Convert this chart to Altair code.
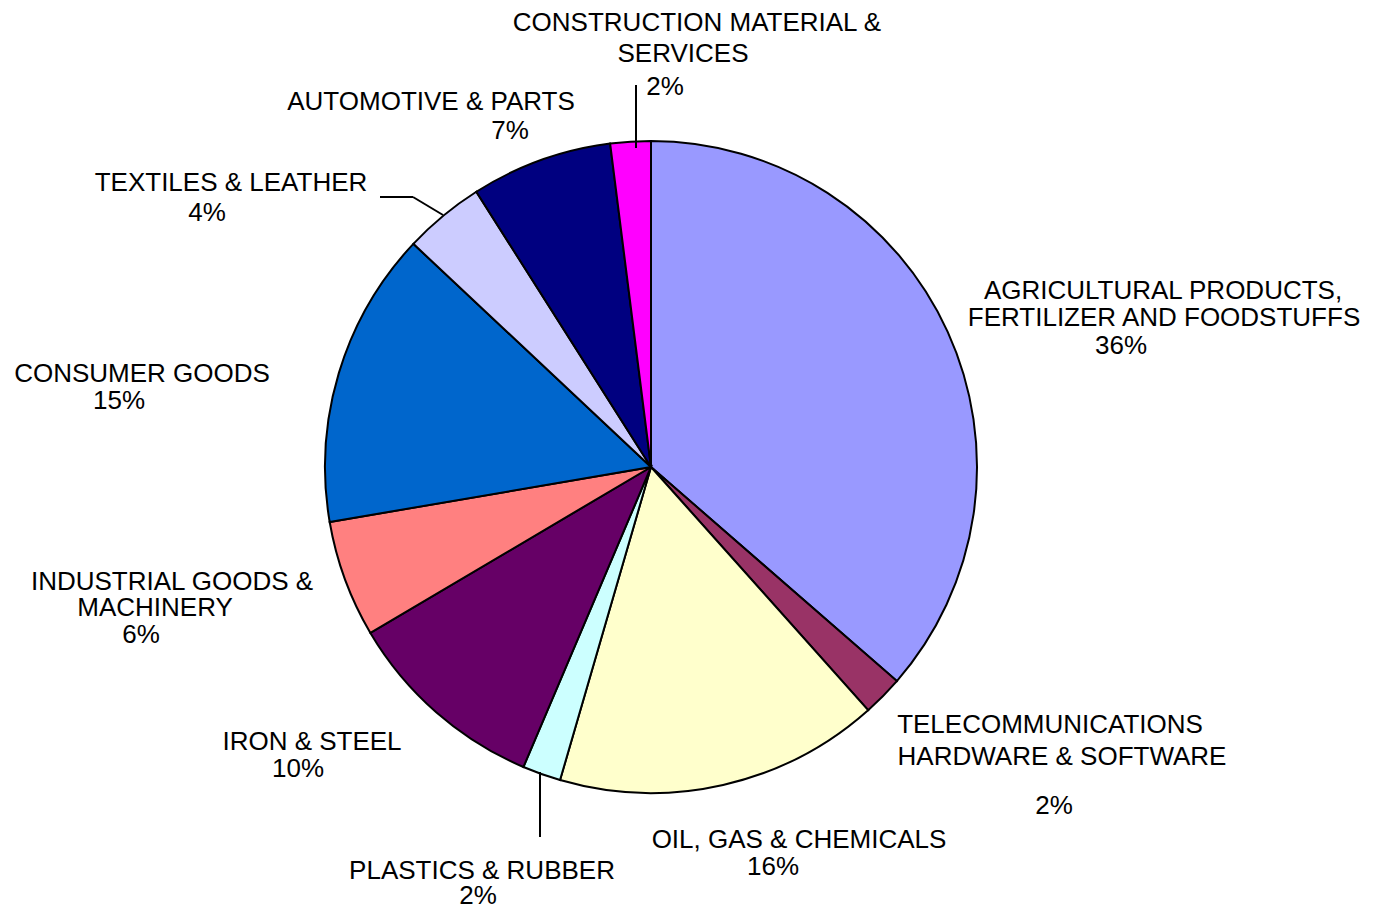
import altair as alt
import pandas as pd

# ---- data ----
categories = [
    "AGRICULTURAL PRODUCTS, FERTILIZER AND FOODSTUFFS",
    "TELECOMMUNICATIONS HARDWARE & SOFTWARE",
    "OIL, GAS & CHEMICALS",
    "PLASTICS & RUBBER",
    "IRON & STEEL",
    "INDUSTRIAL GOODS & MACHINERY",
    "CONSUMER GOODS",
    "TEXTILES & LEATHER",
    "AUTOMOTIVE & PARTS",
    "CONSTRUCTION MATERIAL & SERVICES",
]
shares = [36.4, 2.0, 16.1, 1.9, 10.1, 5.8, 14.7, 4.0, 7.0, 2.0]
colors = ["#9999FF", "#993366", "#FFFFCC", "#CCFFFF", "#660066",
          "#FF8080", "#0066CC", "#CCCCFF", "#000080", "#FF00FF"]

# label text lines (category names as wrapped in the chart)
name_lines = [
    ["AGRICULTURAL PRODUCTS,", "FERTILIZER AND FOODSTUFFS"],
    ["TELECOMMUNICATIONS", "HARDWARE & SOFTWARE"],
    ["OIL, GAS & CHEMICALS"],
    ["PLASTICS & RUBBER"],
    ["IRON & STEEL"],
    ["INDUSTRIAL GOODS &", "MACHINERY"],
    ["CONSUMER GOODS"],
    ["TEXTILES & LEATHER"],
    ["AUTOMOTIVE & PARTS"],
    ["CONSTRUCTION MATERIAL &", "SERVICES"],
]

# ---- layout (page pixel positions of label lines, incl. the % line) ----
label_pos = [
    [(1163, 291), (1164, 318), (1121, 346)],
    [(1050, 725), (1062, 757), (1054, 806)],
    [(799, 840), (773, 867)],
    [(482, 871), (478, 896)],
    [(312, 742), (298, 769)],
    [(172, 582), (155, 608), (141, 635)],
    [(142, 374), (119, 401)],
    [(231, 183), (207, 213)],
    [(431, 102), (510, 131)],
    [(697, 23), (683, 54), (665, 87)],
]
leaders = [  # x, y, x2, y2
    (636, 85, 636, 148),
    (380, 197, 413, 197),
    (413, 197, 443, 215),
    (540, 772, 540, 837),
]
CX, CY, R = 651, 467, 326
W, H = 1362, 898

pie_df = pd.DataFrame({"category": categories, "share": shares, "idx": list(range(len(categories)))})

rows = []
for i, (lines, pos) in enumerate(zip(name_lines, label_pos)):
    texts = lines + [f"{round(shares[i])}%"]
    for t, (px, py) in zip(texts, pos):
        rows.append({"text": t, "px": px, "py": py})
lab_df = pd.DataFrame(rows)
lead_df = pd.DataFrame(leaders, columns=["x", "y", "x2", "y2"])

xs = alt.Scale(domain=[8, 8 + W], range=[0, W])
ys = alt.Scale(domain=[8, 8 + H], range=[0, H])

pie = alt.Chart(pie_df).mark_arc(outerRadius=R, stroke="black", strokeWidth=2).encode(
    theta=alt.Theta("share:Q", stack=True),
    order=alt.Order("idx:Q"),
    color=alt.Color("category:N", scale=alt.Scale(domain=categories, range=colors), legend=None),
    x=alt.value(CX - 8),
    y=alt.value(CY - 8),
)

labels = alt.Chart(lab_df).mark_text(
    font="Liberation Sans", fontSize=26, color="black", align="center", baseline="middle"
).encode(
    x=alt.X("px:Q", scale=xs, axis=None),
    y=alt.Y("py:Q", scale=ys, axis=None),
    text="text:N",
)

lead = alt.Chart(lead_df).mark_rule(color="black", strokeWidth=2).encode(
    x=alt.X("x:Q", scale=xs, axis=None),
    y=alt.Y("y:Q", scale=ys, axis=None),
    x2="x2:Q",
    y2="y2:Q",
)

chart = alt.layer(pie, lead, labels).properties(
    width=W, height=H, padding=0, background="white",
    autosize=alt.AutoSizeParams(type="none")
).configure_view(strokeWidth=0)

chart.save("out.html", embed_options={"renderer": "svg", "actions": False})
